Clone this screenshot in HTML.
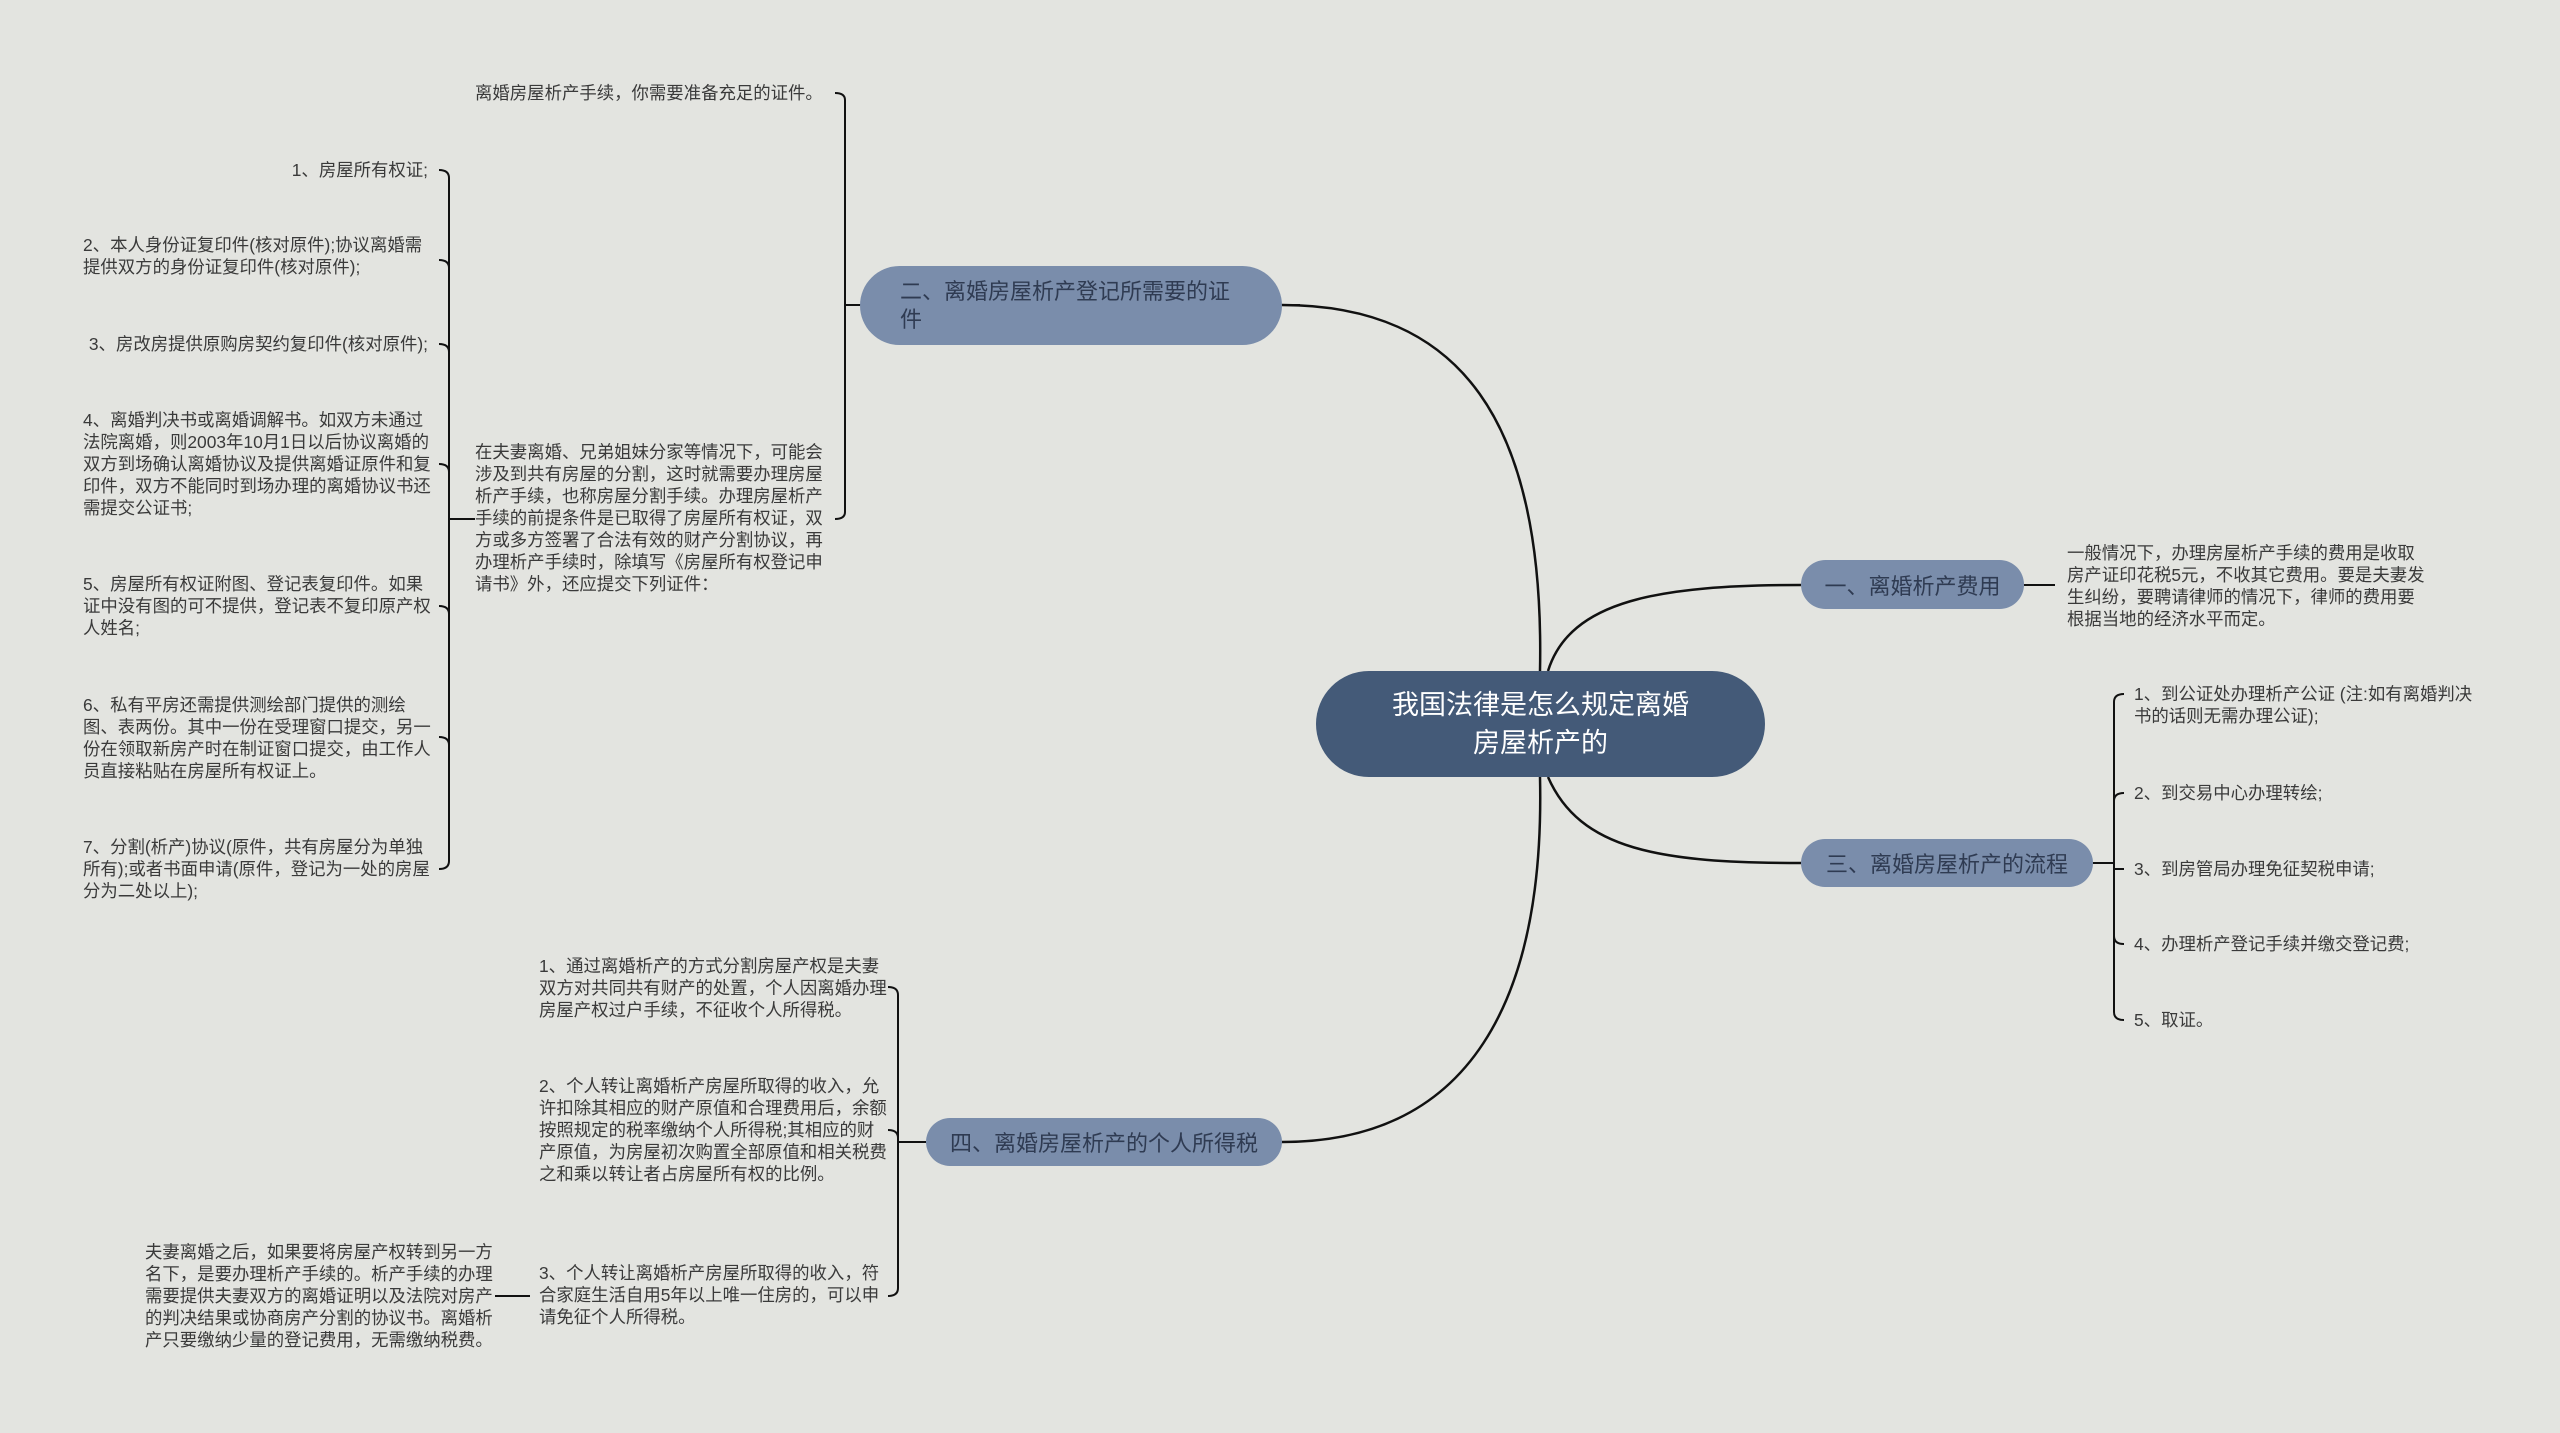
<!DOCTYPE html>
<html><head><meta charset="utf-8"><style>
body{margin:0;width:2560px;height:1433px;background:#e3e4e0;position:relative;overflow:hidden;font-family:"Liberation Sans","Noto Sans CJK SC",sans-serif}
.t{position:absolute;font-size:17.4px;line-height:22px;color:#3a3a3a}
.r{text-align:right}
.n{position:absolute;background:#7a8dab;color:#2f3b52;font-size:22px;border-radius:40px;box-sizing:border-box;display:flex;align-items:center}
svg{position:absolute;left:0;top:0}
</style></head><body>
<svg width="2560" height="1433" fill="none" stroke="#111" stroke-width="2.5">
<path d="M1540,671 C1545,420 1460,305 1282,305"/>
<path d="M1540,777 C1545,1000 1470,1142 1282,1142"/>
<path d="M1548,671 C1570,600 1660,585 1801,585"/>
<path d="M1548,777 C1580,850 1660,863 1801,863"/>
<g stroke-width="2">
<path d="M2024,585 H2055"/>
<path d="M1282,305 H1300 M845,100 V512 M1300,305 H845"/>
<path d="M835,93 Q845,93 845,100 M835,519 Q845,519 845,512"/>
<path d="M449,178 V861 M465,519 H449 M465,519 H475"/>
<path d="M439,170 Q449,170 449,178 M439,260 Q449,260 449,268 M439,344 Q449,344 449,352 M439,464 Q449,464 449,472 M439,606 Q449,606 449,614 M439,737 Q449,737 449,745 M439,869 Q449,869 449,861"/>
<path d="M2093,863 H2114 M2114,702 V1012"/>
<path d="M2124,694 Q2114,694 2114,702 M2124,793 Q2114,793 2114,801 M2114,869 H2124 M2124,944 Q2114,944 2114,936 M2124,1020 Q2114,1020 2114,1012"/>
<path d="M926,1142 H898 M898,995 V1288"/>
<path d="M888,987 Q898,987 898,995 M888,1130 Q898,1130 898,1138 M888,1296 Q898,1296 898,1288"/>
<path d="M530,1296 H495"/>
</g>
</svg>
<div class="n" style="left:1316px;top:671px;width:449px;height:106px;background:#445a78;color:#fff;font-size:27px;line-height:38px;justify-content:center;text-align:center;border-radius:53px">我国法律是怎么规定离婚<br>房屋析产的</div>
<div class="n" style="left:860px;top:266px;width:422px;height:79px;padding-left:40px;line-height:28px">二、离婚房屋析产登记所需要的证<br>件</div>
<div class="n" style="left:1801px;top:560px;width:223px;height:49px;justify-content:center">一、离婚析产费用</div>
<div class="n" style="left:1801px;top:839px;width:292px;height:48px;justify-content:center">三、离婚房屋析产的流程</div>
<div class="n" style="left:926px;top:1118px;width:356px;height:48px;justify-content:center">四、离婚房屋析产的个人所得税</div>

<div class="t" style="left:475px;top:82px">离婚房屋析产手续，你需要准备充足的证件。</div>
<div class="t" style="left:475px;top:441px;width:352px">在夫妻离婚、兄弟姐妹分家等情况下，可能会涉及到共有房屋的分割，这时就需要办理房屋析产手续，也称房屋分割手续。办理房屋析产手续的前提条件是已取得了房屋所有权证，双方或多方签署了合法有效的财产分割协议，再办理析产手续时，除填写《房屋所有权登记申请书》外，还应提交下列证件：</div>
<div class="t r" style="left:40px;top:159px;width:388px">1、房屋所有权证;</div>
<div class="t" style="left:83px;top:234px;width:350px">2、本人身份证复印件(核对原件);协议离婚需提供双方的身份证复印件(核对原件);</div>
<div class="t r" style="left:40px;top:333px;width:388px">3、房改房提供原购房契约复印件(核对原件);</div>
<div class="t" style="left:83px;top:409px;width:350px">4、离婚判决书或离婚调解书。如双方未通过法院离婚，则2003年10月1日以后协议离婚的双方到场确认离婚协议及提供离婚证原件和复印件，双方不能同时到场办理的离婚协议书还需提交公证书;</div>
<div class="t" style="left:83px;top:573px;width:350px">5、房屋所有权证附图、登记表复印件。如果证中没有图的可不提供，登记表不复印原产权人姓名;</div>
<div class="t" style="left:83px;top:694px;width:350px">6、私有平房还需提供测绘部门提供的测绘图、表两份。其中一份在受理窗口提交，另一份在领取新房产时在制证窗口提交，由工作人员直接粘贴在房屋所有权证上。</div>
<div class="t" style="left:83px;top:836px;width:350px">7、分割(析产)协议(原件，共有房屋分为单独所有);或者书面申请(原件，登记为一处的房屋分为二处以上);</div>

<div class="t" style="left:2067px;top:542px;width:360px">一般情况下，办理房屋析产手续的费用是收取房产证印花税5元，不收其它费用。要是夫妻发生纠纷，要聘请律师的情况下，律师的费用要根据当地的经济水平而定。</div>
<div class="t" style="left:2134px;top:683px;width:350px">1、到公证处办理析产公证 (注:如有离婚判决书的话则无需办理公证);</div>
<div class="t" style="left:2134px;top:782px">2、到交易中心办理转绘;</div>
<div class="t" style="left:2134px;top:858px">3、到房管局办理免征契税申请;</div>
<div class="t" style="left:2134px;top:933px">4、办理析产登记手续并缴交登记费;</div>
<div class="t" style="left:2134px;top:1009px">5、取证。</div>

<div class="t" style="left:539px;top:955px;width:350px">1、通过离婚析产的方式分割房屋产权是夫妻双方对共同共有财产的处置，个人因离婚办理房屋产权过户手续，不征收个人所得税。</div>
<div class="t" style="left:539px;top:1075px;width:350px">2、个人转让离婚析产房屋所取得的收入，允许扣除其相应的财产原值和合理费用后，余额按照规定的税率缴纳个人所得税;其相应的财产原值，为房屋初次购置全部原值和相关税费之和乘以转让者占房屋所有权的比例。</div>
<div class="t" style="left:539px;top:1262px;width:350px">3、个人转让离婚析产房屋所取得的收入，符合家庭生活自用5年以上唯一住房的，可以申请免征个人所得税。</div>
<div class="t" style="left:145px;top:1241px;width:350px">夫妻离婚之后，如果要将房屋产权转到另一方名下，是要办理析产手续的。析产手续的办理需要提供夫妻双方的离婚证明以及法院对房产的判决结果或协商房产分割的协议书。离婚析产只要缴纳少量的登记费用，无需缴纳税费。</div>
</body></html>
